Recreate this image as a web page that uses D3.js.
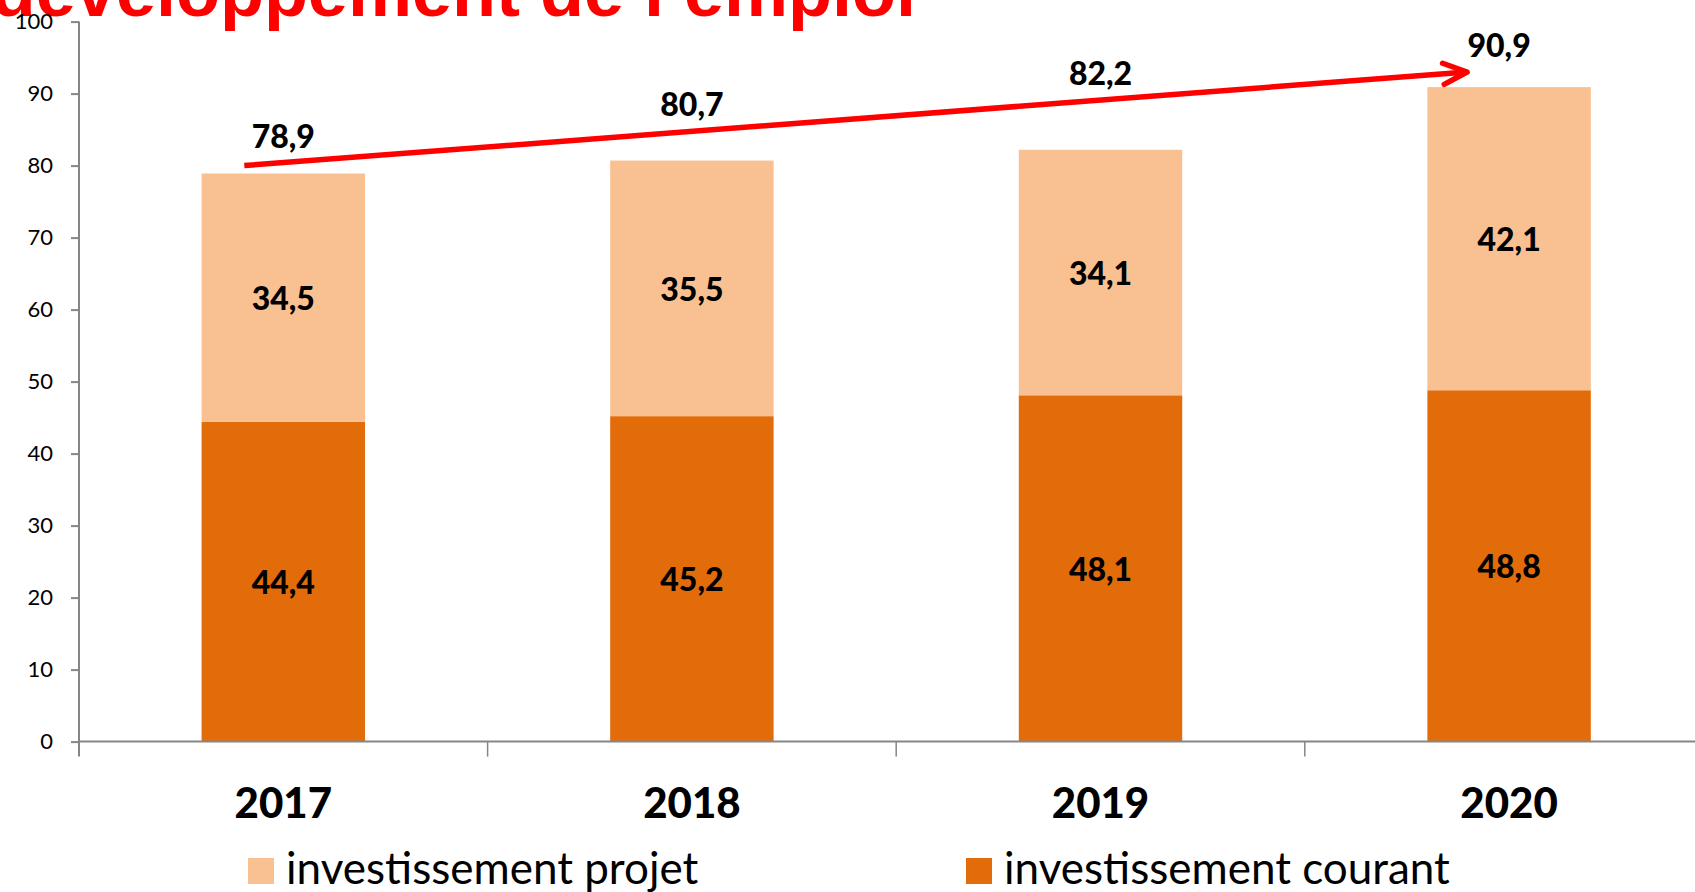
<!DOCTYPE html>
<html>
<head>
<meta charset="utf-8">
<script src="https://cdn.jsdelivr.net/npm/d3@7"></script>
<style>
  html, body { margin: 0; padding: 0; background: #fff; overflow: hidden; }
  svg { display: block; }
</style>
</head>
<body>
<div id="chart"></div>
<script>
// Data (millions)
const years = ['2017', '2018', '2019', '2020'];
const courant = [44.4, 45.2, 48.1, 48.8];   // investissement courant
const projet = [34.5, 35.5, 34.1, 42.1];    // investissement projet
const totals = [78.9, 80.7, 82.2, 90.9];
const yTicks = [0, 10, 20, 30, 40, 50, 60, 70, 80, 90, 100];
const legendLabels = ['investissement projet', 'investissement courant'];
// arrow runs from about 80 at 2017 to about 93 at 2020
const arrowFrom = 80;
const arrowTo = 93;

const Theme = {
  dark: '#E36C0A',
  light: '#F9C191',
  axis: '#868686',
  red: '#FF0000'
};

const width = 1695;
const height = 892;
const margin = { left: 79, top: 21.6, bottom: 150.4 };

const fmt = v => d3.format('.1f')(v).replace('.', ',');

const svg = d3.select('#chart')
  .append('svg')
    .attr('width', width)
    .attr('height', height);

// Scales: the plot area runs past the right edge of the picture
const step = 408.6;
const xScale = d3.scaleBand()
  .domain(years)
  .range([margin.left, margin.left + step * years.length])
  .paddingInner(0)
  .paddingOuter(0);
const yScale = d3.scaleLinear()
  .domain([0, 100])
  .range([height - margin.bottom, margin.top]);

const barWidth = xScale.bandwidth() * 0.4;
const xc = d => xScale(d) + xScale.bandwidth() / 2;

// Title (only its lower part is visible)
svg.append('text')
  .attr('x', 916)
  .attr('y', 16)
  .attr('text-anchor', 'end')
  .attr('fill', Theme.red)
  .style('font-family', '"Liberation Sans", Arial, sans-serif')
  .style('font-weight', 'bold')
  .style('font-size', '72px')
  .text('développement de l\u2019emploi');

// Bars
const rows = years.map((y, i) => ({ year: y, courant: courant[i], projet: projet[i], total: totals[i] }));

svg.append('g').selectAll('rect.courant')
  .data(rows)
  .join('rect')
    .attr('class', 'courant')
    .attr('x', d => xc(d.year) - barWidth / 2)
    .attr('width', barWidth)
    .attr('y', d => yScale(d.courant))
    .attr('height', d => yScale(0) - yScale(d.courant))
    .attr('fill', Theme.dark);

svg.append('g').selectAll('rect.projet')
  .data(rows)
  .join('rect')
    .attr('class', 'projet')
    .attr('x', d => xc(d.year) - barWidth / 2)
    .attr('width', barWidth)
    .attr('y', d => yScale(d.courant + d.projet))
    .attr('height', d => yScale(d.courant) - yScale(d.courant + d.projet))
    .attr('fill', Theme.light);

// Segment labels
const labelStyle = sel => sel
  .attr('text-anchor', 'middle')
  .attr('dominant-baseline', 'central')
  .attr('fill', '#000')
  .style('font-family', 'Lato, sans-serif')
  .style('font-weight', '900')
  .style('font-size', '32px');

svg.append('g').selectAll('text')
  .data(rows)
  .join('text')
    .attr('x', d => xc(d.year))
    .attr('y', d => yScale(d.courant / 2))
    .call(labelStyle)
    .text(d => fmt(d.courant));

svg.append('g').selectAll('text')
  .data(rows)
  .join('text')
    .attr('x', d => xc(d.year))
    .attr('y', d => yScale(d.courant + d.projet / 2))
    .call(labelStyle)
    .text(d => fmt(d.projet));

// Y axis
const yAxis = d3.axisLeft(yScale)
  .tickValues(yTicks)
  .tickSize(8)
  .tickPadding(18)
  .tickFormat(d3.format('d'));
const yg = svg.append('g')
  .attr('transform', `translate(${margin.left},0)`)
  .call(yAxis);
yg.select('.domain').remove();
yg.selectAll('.tick line').attr('stroke', Theme.axis).attr('stroke-width', 2);
yg.selectAll('.tick text')
  .attr('fill', '#000')
  .style('font-family', 'Lato, sans-serif')
  .style('font-size', '22px');
yg.append('line')
  .attr('x1', 0).attr('x2', 0)
  .attr('y1', yScale(100))
  .attr('y2', yScale(0) + 15)
  .attr('stroke', Theme.axis)
  .attr('stroke-width', 2);

// X axis
const xg = svg.append('g');
xg.append('line')
  .attr('x1', margin.left)
  .attr('x2', xScale.range()[1])
  .attr('y1', yScale(0))
  .attr('y2', yScale(0))
  .attr('stroke', Theme.axis)
  .attr('stroke-width', 2);
xg.selectAll('line.tick')
  .data(years.slice(1))
  .join('line')
    .attr('class', 'tick')
    .attr('x1', d => xScale(d))
    .attr('x2', d => xScale(d))
    .attr('y1', yScale(0))
    .attr('y2', yScale(0) + 15)
    .attr('stroke', Theme.axis)
    .attr('stroke-width', 1.5);
xg.selectAll('text')
  .data(years)
  .join('text')
    .attr('x', d => xc(d))
    .attr('y', 818)
    .attr('text-anchor', 'middle')
    .attr('fill', '#000')
    .style('font-family', 'Lato, sans-serif')
    .style('font-weight', '900')
    .style('font-size', '42px')
    .text(d => d);

// Growth arrow
const ax1 = xc(years[0]) - 39;
const ay1 = yScale(arrowFrom);
const ax2 = xc(years[years.length - 1]) - 42;
const ay2 = yScale(arrowTo);
const slope = (ay2 - ay1) / (ax2 - ax1);
const lineY = x => ay1 + (Math.min(x, ax2) - ax1) * slope;

svg.append('line')
  .attr('x1', ax1).attr('y1', ay1)
  .attr('x2', ax2).attr('y2', ay2)
  .attr('stroke', Theme.red)
  .attr('stroke-width', 5.5);
const ang = Math.atan2(ay2 - ay1, ax2 - ax1);
const head = 26;
const spread = 0.42;
svg.append('path')
  .attr('d', d3.line()([
    [ax2 - head * Math.cos(ang - spread), ay2 - head * Math.sin(ang - spread)],
    [ax2, ay2],
    [ax2 - head * Math.cos(ang + spread), ay2 - head * Math.sin(ang + spread)]
  ]))
  .attr('fill', 'none')
  .attr('stroke', Theme.red)
  .attr('stroke-width', 5.5)
  .attr('stroke-linecap', 'round')
  .attr('stroke-linejoin', 'round');

// Total labels sit above the arrow
svg.append('g').selectAll('text')
  .data(rows)
  .join('text')
    .attr('x', d => Math.min(xc(d.year), ax2 + 32))
    .attr('y', d => lineY(xc(d.year)) - 15)
    .attr('text-anchor', 'middle')
    .attr('fill', '#000')
    .style('font-family', 'Lato, sans-serif')
    .style('font-weight', '900')
    .style('font-size', '32px')
    .text(d => fmt(d.total));

// Legend
const legendX = [248, 966];
const legendColors = [Theme.light, Theme.dark];
const lg = svg.append('g');
legendLabels.forEach((label, i) => {
  lg.append('rect')
    .attr('x', legendX[i])
    .attr('y', 858)
    .attr('width', 26)
    .attr('height', 26)
    .attr('fill', legendColors[i]);
  lg.append('text')
    .attr('x', legendX[i] + 38)
    .attr('y', 884)
    .attr('fill', '#000')
    .style('font-family', 'Lato, sans-serif')
    .style('font-size', '44px')
    .text(label);
});
</script>
</body>
</html>
